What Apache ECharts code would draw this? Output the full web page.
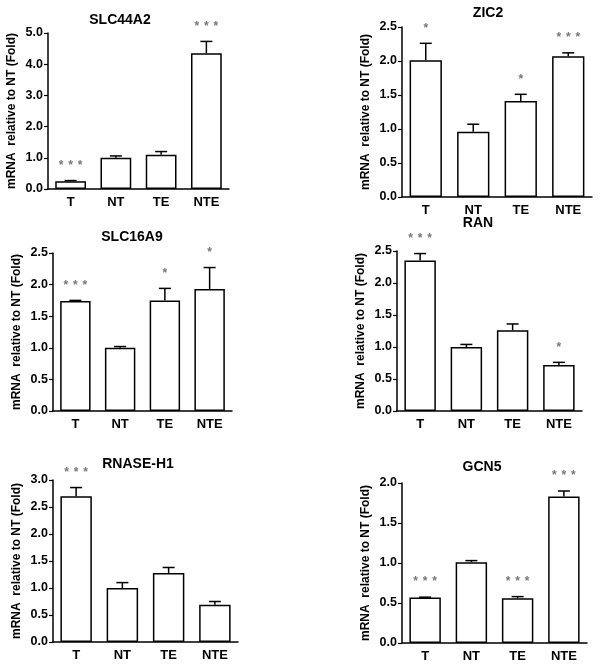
<!DOCTYPE html>
<html>
<head>
<meta charset="utf-8">
<script src="https://cdn.jsdelivr.net/npm/echarts@6/dist/echarts.min.js"></script>
<style>
html,body{margin:0;padding:0;background:#fff;}
#chart{width:602px;height:670px;}
</style>
</head>
<body>
<div id="chart"></div>
<script>
// ---- data ----
const categories = ['T', 'NT', 'TE', 'NTE'];
const titles = ['SLC44A2', 'ZIC2', 'SLC16A9', 'RAN', 'RNASE-H1', 'GCN5'];

const slc44a2Mean = [0.25, 1.00, 1.10, 4.35];
const slc44a2Sem  = [0.02, 0.06, 0.10, 0.38];
const slc44a2Sig  = ['***', '', '', '***'];

const zic2Mean = [2.01, 0.96, 1.41, 2.07];
const zic2Sem  = [0.25, 0.11, 0.10, 0.05];
const zic2Sig  = ['*', '', '*', '***'];

const slc16a9Mean = [1.74, 1.00, 1.75, 1.93];
const slc16a9Sem  = [0.01, 0.02, 0.19, 0.34];
const slc16a9Sig  = ['***', '', '*', '*'];

const ranMean = [2.35, 1.00, 1.26, 0.72];
const ranSem  = [0.11, 0.04, 0.10, 0.04];
const ranSig  = ['***', '', '', '*'];

const rnaseMean = [2.70, 1.00, 1.28, 0.69];
const rnaseSem  = [0.16, 0.10, 0.10, 0.06];
const rnaseSig  = ['***', '', '', ''];

const gcn5Mean = [0.57, 1.01, 0.56, 1.83];
const gcn5Sem  = [0.003, 0.02, 0.02, 0.07];
const gcn5Sig  = ['***', '', '***', '***'];

const yMax      = [5.0, 2.5, 2.5, 2.5, 3.0, 2.0];
const yInterval = [1.0, 0.5, 0.5, 0.5, 0.5, 0.5];
const yAxisName = 'mRNA  relative to NT (Fold)';

const panels = [
  { mean: slc44a2Mean, sem: slc44a2Sem, sig: slc44a2Sig },
  { mean: zic2Mean,    sem: zic2Sem,    sig: zic2Sig },
  { mean: slc16a9Mean, sem: slc16a9Sem, sig: slc16a9Sig },
  { mean: ranMean,     sem: ranSem,     sig: ranSig },
  { mean: rnaseMean,   sem: rnaseSem,   sig: rnaseSig },
  { mean: gcn5Mean,    sem: gcn5Sem,    sig: gcn5Sig }
];

// ---- layout (styling only) ----
const grids = [
  { left: 48,  top: 33,  width: 181, height: 156 },
  { left: 402, top: 27,  width: 190, height: 170 },
  { left: 53,  top: 253, width: 179, height: 158 },
  { left: 397, top: 251, width: 185, height: 160 },
  { left: 53,  top: 480, width: 185, height: 162 },
  { left: 402, top: 483, width: 185, height: 160 }
];
const titlePos = [[120, 20], [488, 13], [132, 237], [478, 223], [138, 464], [482, 467]];

const FONT = '"Liberation Sans", Arial, sans-serif';

const option = {
  backgroundColor: '#fff',
  animation: false,
  grid: grids.map(g => Object.assign({ containLabel: false }, g)),
  xAxis: grids.map((g, i) => ({
    type: 'category',
    gridIndex: i,
    data: categories,
    axisLine: { lineStyle: { color: '#000', width: 1.5 } },
    axisTick: { alignWithLabel: true, length: 4, lineStyle: { color: '#000', width: 1.2 } },
    axisLabel: { color: '#000', fontFamily: FONT, fontWeight: 'bold', fontSize: 13, margin: 7 },
    splitLine: { show: false }
  })),
  yAxis: grids.map((g, i) => ({
    type: 'value',
    gridIndex: i,
    min: 0,
    max: yMax[i],
    interval: yInterval[i],
    name: yAxisName,
    nameLocation: 'middle',
    nameRotate: 90,
    nameGap: 30,
    nameTextStyle: { color: '#000', fontFamily: FONT, fontWeight: 'bold', fontSize: 12 },
    axisLine: { show: true, lineStyle: { color: '#000', width: 1.5 } },
    axisTick: { show: true, length: 4, lineStyle: { color: '#000', width: 1.2 } },
    axisLabel: { color: '#000', fontFamily: FONT, fontWeight: 'bold', fontSize: 12.5, margin: 5,
                 formatter: v => v.toFixed(1) },
    splitLine: { show: false }
  })),
  graphic: titles.map((t, i) => ({
    type: 'text',
    x: titlePos[i][0],
    y: titlePos[i][1],
    style: { text: t, fill: '#000', font: 'bold 14px ' + FONT, textAlign: 'center', textVerticalAlign: 'middle' }
  })),
  series: []
};

panels.forEach((p, i) => {
  option.series.push({
    type: 'bar',
    xAxisIndex: i,
    yAxisIndex: i,
    data: p.mean,
    barCategoryGap: '32%',
    itemStyle: { color: '#fff', borderColor: '#000', borderWidth: 1.5 },
    emphasis: { disabled: true },
    z: 2
  });
  option.series.push({
    type: 'custom',
    xAxisIndex: i,
    yAxisIndex: i,
    z: 3,
    data: p.mean.map((m, k) => [k, m, p.sem[k]]),
    renderItem: function (params, api) {
      const k = api.value(0);
      const m = api.value(1);
      const s = api.value(2);
      const sig = p.sig[k];
      const base = api.coord([k, m]);
      const top = api.coord([k, m + s]);
      const cap = 6;
      const children = [
        { type: 'line', shape: { x1: base[0], y1: base[1], x2: top[0], y2: top[1] },
          style: { stroke: '#000', lineWidth: 1.5 } },
        { type: 'line', shape: { x1: top[0] - cap, y1: top[1], x2: top[0] + cap, y2: top[1] },
          style: { stroke: '#000', lineWidth: 1.5 } }
      ];
      const n = sig.length;
      for (let j = 0; j < n; j++) {
        const dx = (j - (n - 1) / 2) * 9.5;
        children.push({
          type: 'text',
          x: top[0] + dx,
          y: top[1] - 15,
          style: { text: '*', fill: '#777', font: 'bold 12px ' + FONT, textAlign: 'center', textVerticalAlign: 'middle' }
        });
      }
      return { type: 'group', children: children };
    }
  });
});

const chart = echarts.init(document.getElementById('chart'), null, { renderer: 'canvas' });
chart.setOption(option);
</script>
</body>
</html>
